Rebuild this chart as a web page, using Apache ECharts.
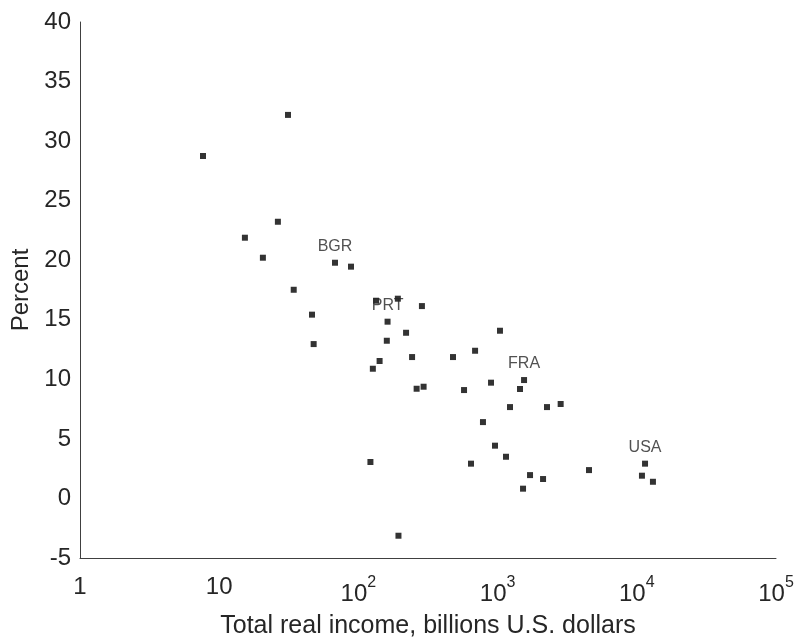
<!DOCTYPE html>
<html>
<head>
<meta charset="utf-8">
<script src="https://cdn.jsdelivr.net/npm/echarts@6/dist/echarts.min.js"></script>
<style>
  html, body { margin: 0; padding: 0; background: #ffffff; }
  #chart { width: 795px; height: 640px; }
</style>
</head>
<body>
<div id="chart"></div>
<script>
// Total real income (billions U.S. dollars)
const incomes = [
  7.65, 31.2, 26.4, 15.3, 20.6, 67.9, 88.5, 34.3, 46.4, 47.7,
  127, 142, 160, 162, 122, 194, 286, 220, 243, 1040,
  478, 689, 1549, 1449, 897, 262, 294, 574, 1228, 2264,
  2838, 785, 958, 1149, 644, 1710, 2121, 1523, 4536, 11460,
  10890, 13060, 134, 192
];
// Percent
const percents = [
  28.75, 32.2, 23.23, 21.89, 20.21, 19.79, 19.46, 17.52, 15.43, 12.96,
  10.89, 11.54, 13.24, 14.84, 3.06, -3.13, 16.15, 13.91, 11.87, 14.08,
  11.87, 12.4, 9.94, 9.19, 9.72, 9.21, 9.38, 9.1, 7.67, 7.67,
  7.93, 6.41, 4.43, 3.5, 2.92, 1.96, 1.63, 0.82, 2.38, 2.92,
  1.91, 1.4, 16.6, 16.77
];
// Country labels (empty = unlabeled)
const codes = [
  '', '', '', '', '', 'BGR', '', '', '', '',
  '', '', '', 'PRT', '', '', '', '', '', '',
  '', '', 'FRA', '', '', '', '', '', '', '',
  '', '', '', '', '', '', '', '', '', 'USA',
  '', '', '', ''
];
const yTicks = { min: -5, max: 40, interval: 5 };
const xTitle = 'Total real income, billions U.S. dollars';
const yTitle = 'Percent';

const textColor = '#262626';
const font = 'Liberation Sans, Arial, Helvetica, sans-serif';

const data = incomes.map((x, i) => {
  const item = { value: [x, percents[i]] };
  if (codes[i]) {
    item.label = { show: true, formatter: codes[i] };
  }
  return item;
});

const chart = echarts.init(document.getElementById('chart'), null, { renderer: 'canvas' });
chart.setOption({
  backgroundColor: '#ffffff',
  animation: false,
  textStyle: { fontFamily: font },
  grid: { left: 80, right: 19, top: 22, bottom: 82, containLabel: false, outerBoundsMode: 'none' },
  xAxis: {
    type: 'log',
    logBase: 10,
    min: 1,
    max: 100000,
    name: xTitle,
    nameLocation: 'middle',
    nameGap: 56,
    nameTextStyle: { fontSize: 25, color: textColor, fontFamily: font },
    axisLine: { show: true, onZero: false, lineStyle: { color: '#404040', width: 1 } },
    axisTick: { show: false },
    splitLine: { show: false },
    minorTick: { show: false },
    axisLabel: {
      margin: 17,
      color: textColor,
      fontFamily: font,
      formatter: function (v) {
        const p = Math.round(Math.log10(v));
        if (p === 0) return '{n|1}';
        if (p === 1) return '{n|10}';
        return '{b|10}{s|' + p + '}';
      },
      rich: {
        n: { fontSize: 24, color: textColor, fontFamily: font, verticalAlign: 'top' },
        b: { fontSize: 24, lineHeight: 31, color: textColor, fontFamily: font, verticalAlign: 'bottom' },
        s: { fontSize: 16, color: textColor, fontFamily: font, verticalAlign: 'top' }
      }
    }
  },
  yAxis: {
    type: 'value',
    min: yTicks.min,
    max: yTicks.max,
    interval: yTicks.interval,
    name: yTitle,
    nameLocation: 'middle',
    nameGap: 46,
    nameRotate: 90,
    nameTextStyle: { fontSize: 24, color: textColor, fontFamily: font },
    axisLine: { show: true, lineStyle: { color: '#404040', width: 1 } },
    axisTick: { show: false },
    splitLine: { show: false },
    axisLabel: { margin: 9, fontSize: 24, color: textColor, fontFamily: font }
  },
  series: [{
    type: 'scatter',
    symbol: 'rect',
    symbolSize: 6,
    itemStyle: { color: '#000000' },
    label: {
      show: false,
      position: 'top',
      distance: 5,
      fontSize: 16,
      color: textColor,
      fontFamily: font
    },
    data: data
  }]
});
</script>
</body>
</html>
